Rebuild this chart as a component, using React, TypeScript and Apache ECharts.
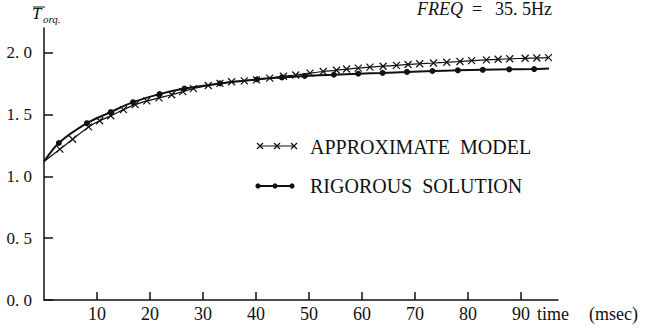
import React, { useEffect, useRef } from "react";
import * as echarts from "echarts";

const yTicks = [0, 0.5, 1.0, 1.5, 2.0];
const xTicks = [10, 20, 30, 40, 50, 60, 70, 80, 90];

// RIGOROUS SOLUTION (dots); first & last points are curve ends without markers
const rigorousX = [0, 2.8, 8.1, 12.6, 16.8, 21.8, 26.5, 33.2, 40.2, 44.9, 49.2, 54.7, 59.3, 63.9, 68.5, 73.3, 78.1, 82.8, 87.8, 92.5, 95.3];
const rigorousY = [1.12, 1.27, 1.43, 1.52, 1.6, 1.665, 1.71, 1.752, 1.785, 1.8, 1.812, 1.822, 1.83, 1.837, 1.845, 1.852, 1.858, 1.862, 1.866, 1.868, 1.872];

// APPROXIMATE MODEL (crosses)
const approxX = [0, 3, 5.4, 8.4, 10.5, 12.6, 15, 17.2, 19.4, 21.7, 24.1, 26.2, 28.2, 31, 33.2, 35.4, 37.8, 40.1, 42.6, 45.2, 47.5, 50.2, 52.7, 55.2, 57.1, 59.3, 61.5, 64, 66.5, 68.7, 70.9, 73.5, 76, 78.5, 80.7, 83.5, 85.7, 87.9, 90.8, 93, 95.2];
const approxY = [1.12, 1.22, 1.3, 1.4, 1.45, 1.49, 1.54, 1.58, 1.61, 1.635, 1.66, 1.685, 1.71, 1.735, 1.752, 1.765, 1.772, 1.78, 1.795, 1.81, 1.82, 1.835, 1.848, 1.858, 1.868, 1.876, 1.884, 1.891, 1.898, 1.905, 1.911, 1.917, 1.923, 1.929, 1.936, 1.942, 1.947, 1.951, 1.955, 1.957, 1.96];

const FONT = "'Liberation Serif', 'Times New Roman', serif";
const CROSS = "path://M0,0L10,10M10,0L0,10";

const txt = (x: number, y: number, text: string, size: number, italic = false, va = "middle") => ({
  type: "text",
  x,
  y,
  style: {
    text,
    fontFamily: FONT,
    fontSize: size,
    fontStyle: italic ? "italic" : "normal",
    fill: "#111",
    verticalAlign: va,
  },
});

export default function App() {
  const ref = useRef<HTMLDivElement>(null);
  useEffect(() => {
    if (!ref.current) return;
    const chart = echarts.init(ref.current, null, { renderer: "svg" });
    const rig = rigorousX.map((x, i) => {
      const endpoint = i === 0 || i === rigorousX.length - 1;
      return endpoint ? { value: [x, rigorousY[i]], symbol: "none" } : { value: [x, rigorousY[i]] };
    });
    const app = approxX.map((x, i) => {
      const endpoint = i === 0;
      return endpoint ? { value: [x, approxY[i]], symbol: "none" } : { value: [x, approxY[i]] };
    });
    chart.setOption({
      animation: false,
      backgroundColor: "#fff",
      textStyle: { fontFamily: FONT, color: "#111" },
      grid: { left: 44, right: 96, top: 28, bottom: 29, containLabel: false },
      xAxis: {
        type: "value",
        min: 0,
        max: 97,
        axisLine: { show: true, onZero: false, lineStyle: { color: "#111", width: 1.5 } },
        axisTick: { show: true, inside: true, length: 8, customValues: xTicks, lineStyle: { color: "#111", width: 1.5 } },
        axisLabel: { customValues: xTicks, fontSize: 18, margin: 5, color: "#111", fontFamily: FONT },
        splitLine: { show: false },
      },
      yAxis: {
        type: "value",
        min: 0,
        max: 2.2,
        axisLine: { show: true, onZero: false, lineStyle: { color: "#111", width: 1.5 } },
        axisTick: { show: true, inside: true, length: 9, customValues: yTicks, lineStyle: { color: "#111", width: 1.5 } },
        axisLabel: {
          customValues: yTicks,
          fontSize: 17,
          margin: 12,
          color: "#111",
          fontFamily: FONT,
          formatter: (v: number) => v.toFixed(1).replace(".", ". "),
        },
        splitLine: { show: false },
      },
      series: [
        {
          name: "APPROXIMATE MODEL",
          type: "line",
          data: app,
          smooth: 0.3,
          symbol: CROSS,
          symbolSize: 7,
          lineStyle: { color: "#111", width: 1.2 },
          itemStyle: { color: "#111", borderColor: "#111", borderWidth: 1.2 },
          z: 2,
        },
        {
          name: "RIGOROUS SOLUTION",
          type: "line",
          data: rig,
          smooth: 0.3,
          symbol: "circle",
          symbolSize: 6,
          lineStyle: { color: "#111", width: 2 },
          itemStyle: { color: "#111" },
          z: 3,
        },
      ],
      graphic: [
        // y-axis title  T̄ orq.
        { type: "line", shape: { x1: 33, y1: 7, x2: 45, y2: 7 }, style: { stroke: "#111", lineWidth: 1 } },
        txt(32, 22, "T", 17, true, "bottom"),
        txt(43, 24, "orq.", 11, true, "bottom"),
        // FREQ = 35. 5Hz
        txt(417, 9, "FREQ", 18, true),
        txt(472, 9, "=", 18),
        txt(495, 9, "35. 5Hz", 18),
        // x-axis name
        txt(537, 314, "time", 18),
        txt(589, 314, "(msec)", 18),
        // legend row 1
        { type: "line", shape: { x1: 259, y1: 146, x2: 295, y2: 146 }, style: { stroke: "#111", lineWidth: 1.2 } },
        ...[260, 277, 294].flatMap((cx) => [
          { type: "line", shape: { x1: cx - 3, y1: 143, x2: cx + 3, y2: 149 }, style: { stroke: "#111", lineWidth: 1.2 } },
          { type: "line", shape: { x1: cx - 3, y1: 149, x2: cx + 3, y2: 143 }, style: { stroke: "#111", lineWidth: 1.2 } },
        ]),
        txt(310, 147, "APPROXIMATE  MODEL", 20),
        // legend row 2
        { type: "line", shape: { x1: 258, y1: 186, x2: 293, y2: 186 }, style: { stroke: "#111", lineWidth: 2 } },
        ...[258, 275, 292].map((cx) => ({ type: "circle", shape: { cx, cy: 186, r: 2.6 }, style: { fill: "#111" } })),
        txt(310, 186, "RIGOROUS  SOLUTION", 20),
      ],
    });
    return () => chart.dispose();
  }, []);
  return <div ref={ref} style={{ width: 654, height: 329, position: "absolute", left: 0, top: 0 }} />;
}
